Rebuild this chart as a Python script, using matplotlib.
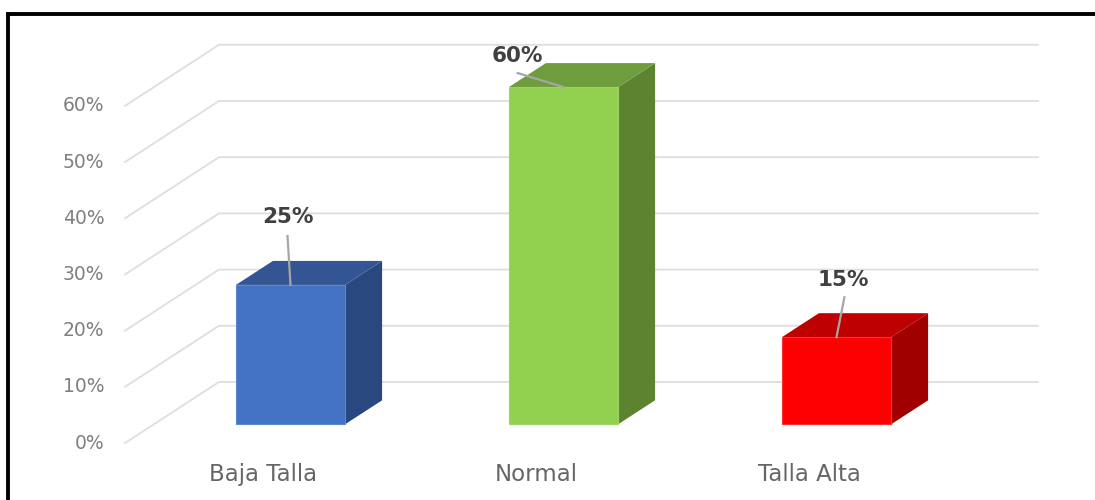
import numpy as np
from matplotlib import pyplot as plt
from matplotlib.lines import Line2D

# Data
categories = ['Baja Talla', 'Normal', 'Talla Alta']
values = [24.8, 60, 15.5]
value_labels = ['25%', '60%', '15%']
ticks = [0, 10, 20, 30, 40, 50, 60]

front_colors = ['#4472c4', '#92d050', '#ff0000']
top_colors = ['#335593', '#6f9c3d', '#bf0000']
side_colors = ['#2a4880', '#5e8330', '#a00000']
edge_colors = ['#5f88d2', '#9cd662', '#ff3030']

# label centre offset and leader line start, relative to the bar front top centre (x units, % units)
label_dx = [-0.011, -0.168, 0.026]
label_dy = [12.1, 5.6, 10.2]
leader_dx = [-0.011, -0.168, 0.029]
leader_dy = [8.7, 2.5, 7.1]

bar_half = 0.2
depth_x = 0.1355
depth_y = 4.27

fig = plt.figure(figsize=(10.95, 5.0), dpi=100)
ax = fig.add_axes([0, 0, 1, 1])
ax.set_xlim(-290.5 / 273, (1095 - 290.5) / 273)
ax.set_ylim(-75.7 / 5.62, 424.3 / 5.62)
ax.axis('off')

# Gridlines on the floor side and the back wall
for t in ticks:
    ax.plot([-0.606, -0.262, 2.738], [t - 3.33, t + 7.53, t + 7.53],
            color='#dedede', lw=1.3, zorder=1, solid_joinstyle='miter')
    ax.text(-0.682, t - 3.33, '%d%%' % t, ha='right', va='center',
            fontsize=13.5, color='#7f7f7f')

# 3D looking bars
for i, v in enumerate(values):
    l, r = i - bar_half, i + bar_half
    ax.fill([r, r + depth_x, r + depth_x, r], [0, depth_y, v + depth_y, v],
            color=side_colors[i], lw=0, zorder=2)
    ax.fill([l, r, r + depth_x, l + depth_x], [v, v, v + depth_y, v + depth_y],
            color=top_colors[i], lw=0, zorder=2)
    ax.fill([l, r, r, l], [0, 0, v, v], facecolor=front_colors[i],
            edgecolor=edge_colors[i], lw=0.8, zorder=3)
    ax.plot([i + leader_dx[i], i], [v + leader_dy[i], v], color='#a6a6a6', lw=1.6, zorder=4)
    ax.text(i + label_dx[i], v + label_dy[i], value_labels[i], ha='center', va='center',
            fontsize=15.5, fontweight='bold', color='#404040', zorder=5)
    ax.text(i - 0.1, -8.9, categories[i], ha='center', va='center',
            fontsize=16.5, color='#666666')

# Black frame, cut off at the right and bottom
fig.add_artist(Line2D([8 / 1095, 8 / 1095, 1], [0, 1 - 13.5 / 500, 1 - 13.5 / 500],
                      color='black', lw=2.8, solid_joinstyle='miter'))

plt.savefig('out.png', dpi=100)
